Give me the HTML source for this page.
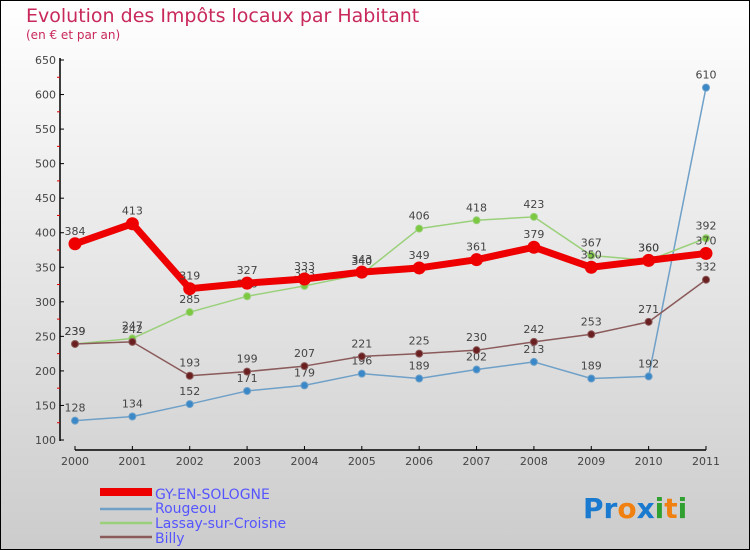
<!DOCTYPE html>
<html><head><meta charset="utf-8"><style>
body{margin:0;width:750px;height:550px;overflow:hidden}
svg{display:block;font-family:"DejaVu Sans","Liberation Sans",sans-serif}
</style></head><body>
<svg id="c" width="750" height="550">
<defs><linearGradient id="bg" x1="0" y1="0" x2="0" y2="1"><stop offset="0" stop-color="#ffffff"/><stop offset="1" stop-color="#cccccc"/></linearGradient></defs>
<rect x="0.5" y="0.5" width="749" height="549" fill="url(#bg)" stroke="#000"/>
<text x="26" y="22" font-size="19" fill="#c8285a">Evolution des Impôts locaux par Habitant</text>
<text x="26" y="39" font-size="12" fill="#c8285a">(en € et par an)</text>
<g id="axes"></g><g id="series"></g>
<g>
<rect x="100" y="488" width="52" height="8" fill="#e00"/>
<text x="155" y="499" font-size="14" fill="#5555ff">GY-EN-SOLOGNE</text>
<line x1="100" y1="509" x2="152" y2="509" stroke="#6fa0c8" stroke-width="2.5"/>
<text x="155" y="513" font-size="14" fill="#5555ff">Rougeou</text>
<line x1="100" y1="523" x2="152" y2="523" stroke="#9ad07a" stroke-width="2.5"/>
<text x="155" y="528" font-size="14" fill="#5555ff">Lassay-sur-Croisne</text>
<line x1="100" y1="537" x2="152" y2="537" stroke="#8b5a5a" stroke-width="2.5"/>
<text x="155" y="543" font-size="14" fill="#5555ff">Billy</text>
</g>
<text x="583" y="518" font-size="28" font-weight="bold"><tspan fill="#1a7ad0">Pr</tspan><tspan fill="#f08010">o</tspan><tspan fill="#1a7ad0">x</tspan><tspan fill="#30a030">i</tspan><tspan fill="#f08010">t</tspan><tspan fill="#30a030">i</tspan></text>
</svg>
<script>
const years=["2000","2001","2002","2003","2004","2005","2006","2007","2008","2009","2010","2011"];
const yTicks=[100,150,200,250,300,350,400,450,500,550,600,650];
const gy=[384,413,319,327,333,343,349,361,379,350,360,370];
const rougeou=[128,134,152,171,179,196,189,202,213,189,192,610];
const lassay=[239,247,285,308,323,340,406,418,423,367,360,392];
const billy=[239,242,193,199,207,221,225,230,242,253,271,332];
const NS="http://www.w3.org/2000/svg";
const X=i=>75+i*(706-75)/11;
const Y=v=>440-(v-100)*(380/550);
function mk(t,a,p){const e=document.createElementNS(NS,t);for(const k in a)e.setAttribute(k,a[k]);p.appendChild(e);return e;}
const ax=document.getElementById('axes');
let l=mk('line',{x1:60,y1:58,x2:60,y2:441,stroke:'#000','stroke-width':1.5},ax);


l=mk('line',{x1:75,y1:450,x2:706,y2:450,stroke:'#000','stroke-width':1.5},ax);


yTicks.forEach((v,i)=>{
 mk('line',{x1:60,y1:Y(v),x2:64,y2:Y(v),stroke:'#000'},ax);
 if(i<yTicks.length-1) mk('line',{x1:57,y1:Y(v+25),x2:60,y2:Y(v+25),stroke:'#d00'},ax);
 const t=mk('text',{x:56,y:Y(v)+4,'font-size':11,fill:'#444','text-anchor':'end'},ax);t.textContent=v;
 
 
});
years.forEach((y,i)=>{
 mk('line',{x1:X(i),y1:446,x2:X(i),y2:450,stroke:'#000'},ax);
 const t=mk('text',{x:X(i),y:465,'font-size':11,fill:'#444','text-anchor':'middle'},ax);t.textContent=y;
 
 
});
const sg=document.getElementById('series');
function draw(vals,name,col,w,r,dot){
 const g=mk('g',{},sg);
 
 
 mk('polyline',{points:vals.map((v,i)=>X(i)+','+Y(v)).join(' '),fill:'none',stroke:col,'stroke-width':w,'stroke-linejoin':'round'},g);
 vals.forEach((v,i)=>{
  const c=mk('circle',{cx:X(i),cy:Y(v),r:r,fill:dot,stroke:col,'stroke-width':1},g);
  
  
  const t=mk('text',{x:X(i),y:Y(v)-9,'font-size':11,fill:'#444','text-anchor':'middle'},g);t.textContent=v;
 });
}
draw(rougeou,'rougeou','#6fa0c8',1.5,3.5,'#3a88c8');
draw(lassay,'lassay','#9ad07a',1.5,3.5,'#7cc840');
draw(billy,'billy','#8b5a5a',1.5,3.5,'#6a2020');
draw(gy,'gy','#ee0000',7,6,'#ee0000');
</script>
</body></html>
